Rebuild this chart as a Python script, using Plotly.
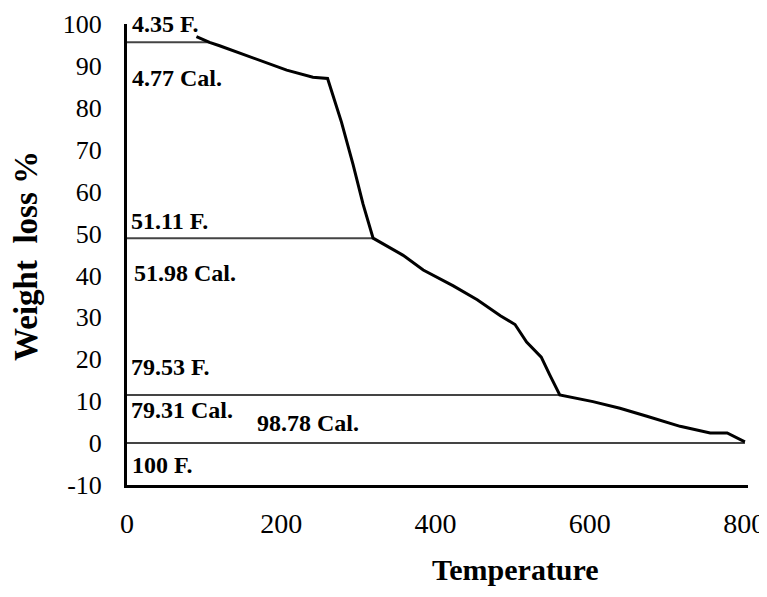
import plotly.graph_objects as go

# TGA curve (temperature, weight %)
temp = [90, 107, 120, 163, 207, 241, 260, 278, 293, 306, 319, 358, 384, 423, 454, 484, 503, 518, 537, 548, 561, 604, 639, 674, 717, 756, 778, 801]
weight = [97.0, 95.6, 94.8, 92.0, 89.0, 87.3, 87.0, 76.6, 66.5, 57.0, 48.9, 44.8, 41.3, 37.5, 34.2, 30.4, 28.3, 24.1, 20.5, 16.3, 11.5, 9.9, 8.3, 6.4, 4.0, 2.4, 2.4, 0.3]

# step levels (horizontal reference lines) and their right ends
level_y = [95.65, 48.89, 11.5, 0.0]
level_xend = [107, 319, 561, 801]

# labels
label_text = ["4.35 F.", "4.77 Cal.", "51.11 F.", "51.98 Cal.", "79.53 F.", "79.31 Cal.", "98.78 Cal.", "100 F."]
label_x = [4, 4, 2, 6, 2, 2, 166, 4]
label_y = [99.9, 87.2, 53.0, 40.6, 18.2, 7.9, 4.7, -5.2]

x_ticks = [0, 200, 400, 600, 800]
y_ticks = [-10, 0, 10, 20, 30, 40, 50, 60, 70, 80, 90, 100]
y_ticktext = ["-10", "0", "10", "20", "30", "40", "50", "60", "70", "80", "90", "100"]

x_title = "Temperature"
y_title = "Weight  loss %"

FONT = "Liberation Serif"

fig = go.Figure()
for yv, xe in zip(level_y, level_xend):
    fig.add_trace(go.Scatter(x=[0, xe], y=[yv, yv], mode="lines",
                             line=dict(color="#444444", width=2), showlegend=False, hoverinfo="skip"))
fig.add_trace(go.Scatter(x=temp, y=weight, mode="lines",
                         line=dict(color="black", width=3), showlegend=False))

for t, xv, yv in zip(label_text, label_x, label_y):
    fig.add_annotation(x=xv, y=yv, text="<b>" + t + "</b>", showarrow=False,
                       xanchor="left", yanchor="middle",
                       font=dict(family=FONT, size=24, color="black"))

# axis titles (positioned as in the reference)
fig.add_annotation(xref="paper", yref="paper", x=0.625, y=0, yshift=-84,
                   text="<b>" + x_title + "</b>", showarrow=False,
                   xanchor="center", yanchor="middle",
                   font=dict(family=FONT, size=30, color="black"))
fig.add_annotation(xref="paper", yref="paper", x=0, xshift=-101, y=0.497,
                   text="<b>" + y_title + "</b>", showarrow=False, textangle=-90,
                   xanchor="center", yanchor="middle",
                   font=dict(family=FONT, size=33, color="black"))

fig.update_layout(
    width=759, height=581,
    margin=dict(l=119, r=19, t=16, b=104),
    paper_bgcolor="white", plot_bgcolor="white",
    font=dict(family=FONT, color="black"),
    xaxis=dict(range=[0, 805], tickvals=x_ticks, showgrid=False, zeroline=False,
               showline=True, linecolor="black", linewidth=3, automargin=False,
               tickfont=dict(family=FONT, size=28, color="black"),
               ticks="", ticklabelstandoff=11, ticklabeloverflow="allow"),
    yaxis=dict(range=[-10, 100], tickvals=y_ticks, ticktext=y_ticktext, showgrid=False, zeroline=False,
               showline=True, linecolor="black", linewidth=3, automargin=False,
               tickfont=dict(family=FONT, size=26, color="black"),
               ticks="", ticklabelstandoff=17, ticklabeloverflow="allow"),
)

fig.write_html("out.html")
